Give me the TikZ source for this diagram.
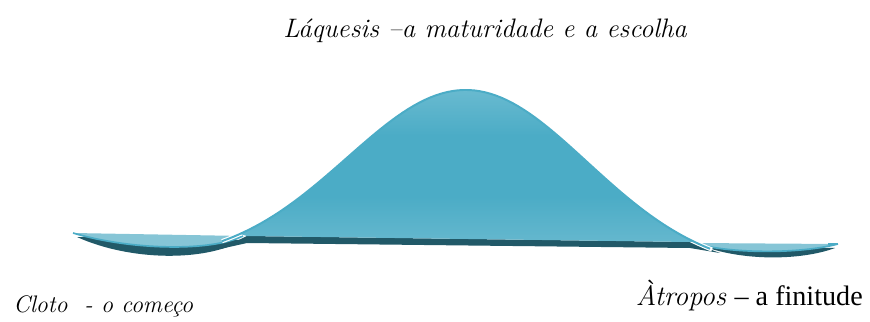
\documentclass[tikz,border=0pt]{standalone}
\usepackage{fontspec}
\newfontfamily\timesfont{Liberation Serif}
\definecolor{bellblue}{HTML}{4BACC6}
\definecolor{belltop}{HTML}{9AD1E0}
\definecolor{bellbottom}{HTML}{8FCADB}
\definecolor{bandteal}{HTML}{215968}
\definecolor{troughfill}{HTML}{86C5D6}
\pgfdeclareverticalshading{bellshade}{100bp}{color(0bp)=(bellbottom); color(40bp)=(bellblue); color(60bp)=(bellblue); color(100bp)=(belltop)}
\tikzset{
  fatelabel/.style={font={\fontsize{19}{23}\selectfont\itshape}, inner sep=0pt},
  plainlabel/.style={font={\fontsize{20}{24}\selectfont\timesfont}},
  trough/.style={fill=troughfill},
  troughedge/.style={draw=bellblue, line width=1.2pt},
  shadow/.style={fill=bandteal}
}
\begin{document}
\begin{tikzpicture}[x=0.025cm, y=-0.025cm]
    \useasboundingbox (0,0) rectangle (870,322);

    % Shadows under the troughs
    \fill[shadow] (77,237) -- (243,240) .. controls (205,262) and (130,261) .. (77,237);
    \fill[shadow] (700,245) -- (835,248) .. controls (800,261) and (740,261) .. (700,245);

    % Left trough
    \fill[trough] (73,233) -- (243,236) .. controls (210,252) and (130,250) .. (73,233);
    \draw[troughedge] (243,236) .. controls (210,252) and (130,250) .. (73,233);

    % Right trough
    \fill[trough] (693,243) -- (838,244) .. controls (800,254) and (730,254) .. (693,243);
    \draw[troughedge] (838,244) .. controls (800,254) and (730,254) .. (693,243);
    \draw[bellblue, line width=2pt] (828,244) -- (838,244);

    % Dark base of the bell
    \fill[shadow] (220,249) -- (247,236) -- (690,242) -- (720,253) -- (690,248) -- (247,243) -- cycle;

    % White gap under the bell line
    \draw[white, line width=3pt] plot[domain=222:712, samples=90]
      (\x, {237+8*(\x-233)/467-151*(exp(-0.5*((\x-467)/120)^2)-0.149)/0.851});

    % Bell
    \shade[shading=bellshade]
      plot[domain=240:694, samples=90]
      (\x, {237+8*(\x-233)/467-151*(exp(-0.5*((\x-467)/120)^2)-0.149)/0.851})
      -- (690,242) -- (247,236) -- cycle;
    \draw[bellblue, line width=1.4pt] plot[domain=222:710, samples=90]
      (\x, {237+8*(\x-233)/467-151*(exp(-0.5*((\x-467)/120)^2)-0.149)/0.851});

    % Labels
    \node[fatelabel, anchor=base] (laquesis) at (485,37) {Láquesis –a maturidade e a escolha};
    \node[fatelabel, anchor=base west, font={\fontsize{17}{21}\selectfont\itshape}] (cloto) at (13,312) {Cloto~ - o começo};
    \node[plainlabel, anchor=base east, inner sep=0pt] (atropos) at (863,305)
      {{\fontsize{20}{24}\selectfont\rmfamily\itshape Àtropos}\hspace{6pt}– a finitude};
\end{tikzpicture}
\end{document}
